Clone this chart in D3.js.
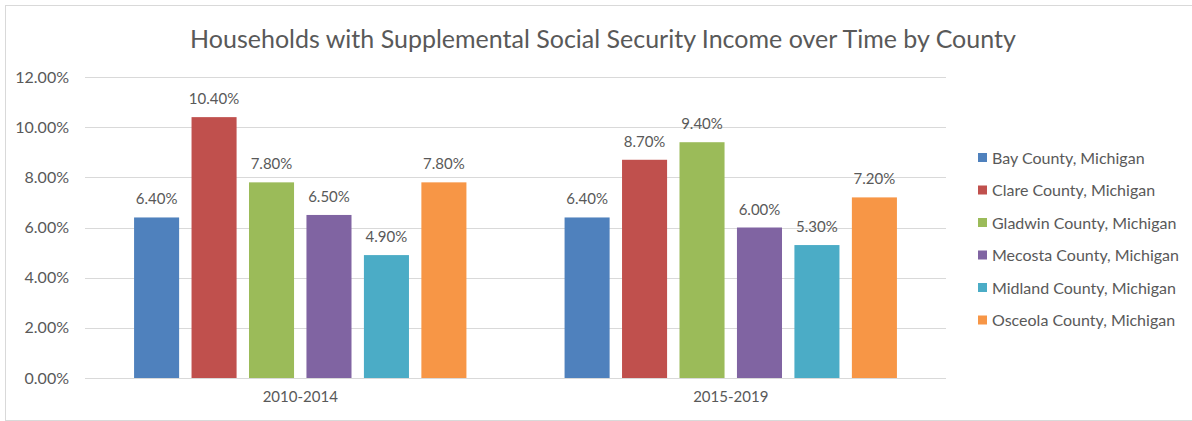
<!DOCTYPE html>
<html>
<head>
<meta charset="utf-8">
<script src="https://cdn.jsdelivr.net/npm/d3@7"></script>
<style>
  html, body { margin: 0; padding: 0; background: #fff; }
  svg { display: block; }
  text { font-family: Lato, "Open Sans", sans-serif; fill: #595959; }
</style>
</head>
<body>
<svg id="chart" width="1192" height="421"></svg>
<script>
// Data
const periods = ["2010-2014", "2015-2019"];
const counties = [
  "Bay County, Michigan",
  "Clare County, Michigan",
  "Gladwin County, Michigan",
  "Mecosta County, Michigan",
  "Midland County, Michigan",
  "Osceola County, Michigan"
];
const values2010_2014 = [6.4, 10.4, 7.8, 6.5, 4.9, 7.8];
const values2015_2019 = [6.4, 8.7, 9.4, 6.0, 5.3, 7.2];
const yTicks = [0, 2, 4, 6, 8, 10, 12];
const colors = ["#4F81BD", "#C0504D", "#9BBB59", "#8064A2", "#4BACC6", "#F79646"];
const title = "Households with Supplemental Social Security Income over Time by County";

const seriesByPeriod = [values2010_2014, values2015_2019];

const svg = d3.select("#chart");
const W = 1192, H = 421;

// Outer frame
svg.append("rect")
  .attr("x", 5.5).attr("y", 5.5)
  .attr("width", W - 5).attr("height", H - 6)
  .attr("fill", "#fff")
  .attr("stroke", "#d9d9d9").attr("stroke-width", 1);

const plot = { left: 85, right: 946, top: 77, bottom: 378 };

const x0 = d3.scaleBand().domain(periods).range([plot.left, plot.right]);
const x1 = d3.scaleBand().domain(counties)
  .range([0, x0.bandwidth()])
  .paddingInner(0.216)
  .paddingOuter(0.854);
const y = d3.scaleLinear().domain([0, 12]).range([plot.bottom, plot.top]);
const color = d3.scaleOrdinal().domain(counties).range(colors);

// Title
svg.append("text")
  .attr("x", 603).attr("y", 48)
  .attr("text-anchor", "middle")
  .style("font-size", "25px")
  .text(title);

// Gridlines
svg.append("g")
  .selectAll("line")
  .data(yTicks)
  .join("line")
  .attr("x1", plot.left).attr("x2", plot.right)
  .attr("y1", d => Math.round(y(d)) + 0.5)
  .attr("y2", d => Math.round(y(d)) + 0.5)
  .attr("stroke", "#d9d9d9").attr("stroke-width", 1);

// Y axis labels
const yAxis = d3.axisLeft(y).tickValues(yTicks)
  .tickFormat(d => d.toFixed(2) + "%")
  .tickSize(0).tickPadding(0);
const yg = svg.append("g")
  .attr("transform", `translate(${plot.left - 16},0)`)
  .call(yAxis);
yg.select(".domain").remove();
yg.selectAll("text")
  .style("font-size", "16px")
  .style("font-family", "Lato, sans-serif")
  .attr("fill", "#595959");

// X axis labels
const xAxis = d3.axisBottom(x0).tickSize(0).tickPadding(0);
const xg = svg.append("g")
  .attr("transform", `translate(0,${plot.bottom + 13})`)
  .call(xAxis);
xg.select(".domain").remove();
xg.selectAll("text")
  .style("font-size", "15px")
  .style("font-family", "Lato, sans-serif")
  .attr("fill", "#595959");

// Bars and value labels
const groups = svg.append("g")
  .selectAll("g")
  .data(periods)
  .join("g")
  .attr("transform", d => `translate(${x0(d)},0)`);

groups.each(function(p, i) {
  const vals = seriesByPeriod[i].map((v, j) => ({ county: counties[j], value: v }));
  const g = d3.select(this);
  g.selectAll("rect")
    .data(vals)
    .join("rect")
    .attr("x", d => x1(d.county))
    .attr("y", d => y(d.value))
    .attr("width", x1.bandwidth())
    .attr("height", d => y(0) - y(d.value))
    .attr("fill", d => color(d.county));
  g.selectAll("text.val")
    .data(vals)
    .join("text")
    .attr("class", "val")
    .attr("x", d => x1(d.county) + x1.bandwidth() / 2)
    .attr("y", d => y(d.value) - 13)
    .attr("text-anchor", "middle")
    .style("font-size", "15px")
    .text(d => d.value.toFixed(2) + "%");
});

// Legend
const legend = svg.append("g")
  .attr("transform", "translate(978,158)");
const items = legend.selectAll("g")
  .data(counties)
  .join("g")
  .attr("transform", (d, i) => `translate(0,${i * 32.5})`);
items.append("rect")
  .attr("x", 0).attr("y", -5)
  .attr("width", 9).attr("height", 9)
  .attr("fill", d => color(d));
items.append("text")
  .attr("x", 14).attr("y", 5.5)
  .style("font-size", "16px")
  .text(d => d);
</script>
</body>
</html>
